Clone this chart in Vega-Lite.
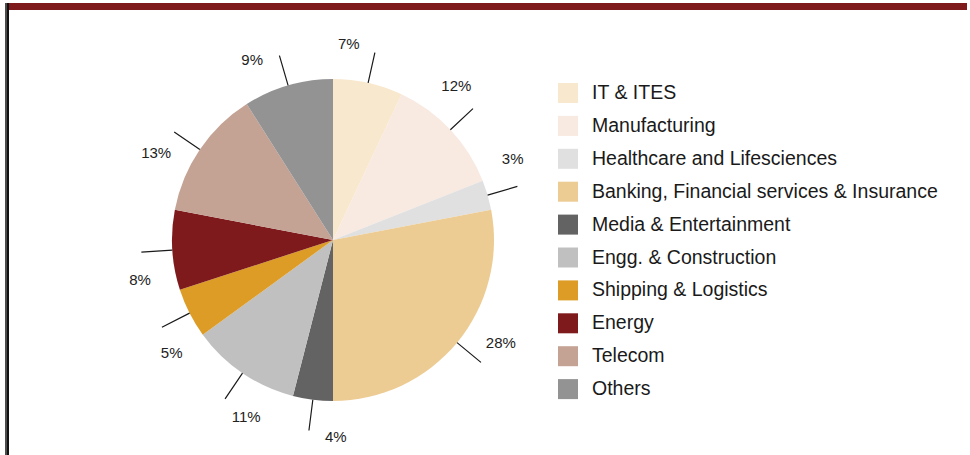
{
  "$schema": "https://vega.github.io/schema/vega-lite/v6.json",
  "background": "white",
  "padding": {"left": 5, "top": 0, "right": 0, "bottom": 0},
  "bounds": "flush",
  "spacing": 0,
  "config": {
    "view": {"stroke": null},
    "font": "Liberation Sans",
    "legend": {
      "orient": "none",
      "legendX": 553,
      "legendY": 80,
      "symbolType": "square",
      "symbolSize": 400,
      "symbolStrokeWidth": 0,
      "labelFontSize": 19.5,
      "labelFont": "Liberation Sans",
      "labelColor": "#1a1a1a",
      "labelOffset": 14,
      "rowPadding": 12.9,
      "padding": 0,
      "labelLimit": 500
    }
  },
  "data": {
    "values": [
      {"sector": "IT & ITES", "value": 7},
      {"sector": "Manufacturing", "value": 12},
      {"sector": "Healthcare and Lifesciences", "value": 3},
      {"sector": "Banking, Financial services & Insurance", "value": 28},
      {"sector": "Media & Entertainment", "value": 4},
      {"sector": "Engg. & Construction", "value": 11},
      {"sector": "Shipping & Logistics", "value": 5},
      {"sector": "Energy", "value": 8},
      {"sector": "Telecom", "value": 13},
      {"sector": "Others", "value": 9}
    ]
  },
  "hconcat": [
    {
      "width": 2,
      "height": 460,
      "view": {"fill": "#4d4d4d", "stroke": null},
      "mark": "text",
      "encoding": {"text": {"value": ""}}
    },
    {
      "spacing": 0,
      "bounds": "flush",
      "vconcat": [
        {
          "width": 960,
          "height": 7,
          "view": {"fill": "#7f1a1c", "stroke": null},
          "mark": "text",
          "encoding": {"text": {"value": ""}}
        },
        {
          "spacing": 0,
          "bounds": "flush",
          "hconcat": [
            {
              "width": 652,
              "height": 460,
              "transform": [{"window": [{"op": "row_number", "as": "idx"}]}],
              "resolve": {"scale": {"theta": "independent"}},
              "layer": [
                {
                  "mark": {"type": "arc", "radius": 161},
                  "encoding": {
                    "theta": {"field": "value", "type": "quantitative", "stack": true},
                    "order": {"field": "idx", "type": "quantitative"},
                    "color": {
                      "field": "sector",
                      "type": "nominal",
                      "title": null,
                      "scale": {
                        "domain": ["IT & ITES", "Manufacturing", "Healthcare and Lifesciences", "Banking, Financial services & Insurance", "Media & Entertainment", "Engg. & Construction", "Shipping & Logistics", "Energy", "Telecom", "Others"],
                        "range": ["#f8e8cd", "#f8e9e1", "#e0e0e0", "#edcc94", "#636363", "#c0c0c0", "#dc9c26", "#7f1a1c", "#c4a294", "#939393"]
                      }
                    }
                  }
                },
                {
                  "mark": {"type": "arc", "radius": 192, "radius2": 161, "padAngle": 3.1, "fill": "white", "fillOpacity": 0, "stroke": "#1a1a1a", "strokeWidth": 1.2},
                  "encoding": {
                    "theta": {"field": "value", "type": "quantitative", "stack": true},
                    "order": {"field": "idx", "type": "quantitative"},
                    "detail": {"field": "sector", "type": "nominal"}
                  }
                },
                {
                  "mark": {"type": "text", "radius": 197, "fontSize": 15, "font": "Liberation Sans", "color": "#222222", "align": "center", "baseline": "middle"},
                  "encoding": {
                    "theta": {"field": "value", "type": "quantitative", "stack": true, "scale": {"range": [-0.14, 6.143]}},
                    "order": {"field": "idx", "type": "quantitative"},
                    "detail": {"field": "sector", "type": "nominal"},
                    "text": {"value": {"expr": "datum.value + '%'"}}
                  }
                }
              ]
            },
            {
              "width": 308,
              "height": 460,
              "mark": "text",
              "encoding": {"text": {"value": ""}}
            }
          ]
        }
      ]
    },
    {
      "width": 2,
      "height": 460,
      "view": {"fill": "#111111", "stroke": null},
      "mark": "text",
      "encoding": {"text": {"value": ""}}
    }
  ]
}
